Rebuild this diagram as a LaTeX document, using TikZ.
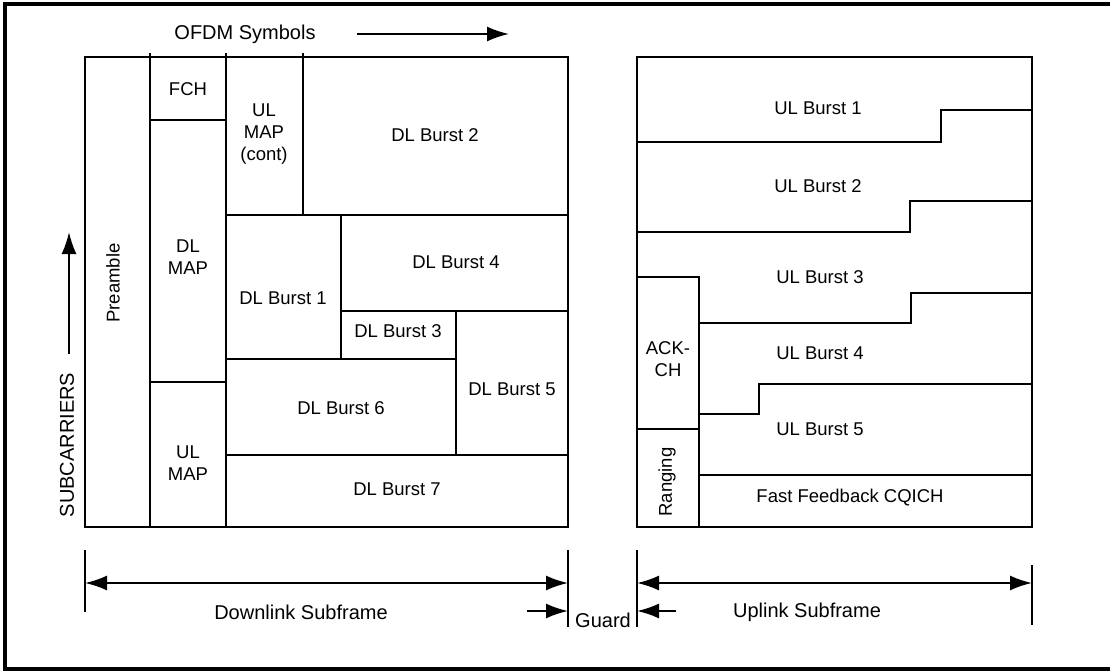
\documentclass[tikz,border=0pt]{standalone}
\usepackage{fontspec}
\setmainfont{Liberation Sans}
\usetikzlibrary{arrows.meta,positioning}
\tikzset{>={Latex[length=22pt,width=15pt]}}
\tikzset{box/.style={line width=2pt},
  lbl/.style={font=\fontsize{18.5}{22}\selectfont, align=center, inner sep=0pt},
  biglbl/.style={font=\fontsize{20}{24}\selectfont, inner sep=0pt},
  dim/.style={line width=2pt, <->}}

\begin{document}
\begin{tikzpicture}[x=1pt,y=-1pt]
  \useasboundingbox (0,0) rectangle (1110,671);
  \draw[line width=3.5pt] (1114,4) -- (5,4) -- (5,669) -- (1114,669);
  % axes labels
  \node[biglbl] (ofdm) at (245,34) {OFDM Symbols};
  \coordinate (symA) at (357,34);
  \coordinate (symB) at (509,34);
  \draw[box,->] (symA) -- (symB);
  \node[biglbl, rotate=90] (subc) at (67,445) {SUBCARRIERS};
  \coordinate (subA) at (69,354);
  \coordinate (subB) at (69,232);
  \draw[box,->] (subA) -- (subB);
  % downlink subframe
  \draw[box] (85,57) rectangle (568,527);
  \foreach \x in {150,226}
    \draw[box] (\x,53) -- (\x,527);
  \draw[box] (303,53) -- (303,215);
  \draw[box] (150,120) -- (226,120);
  \draw[box] (150,382) -- (226,382);
  \draw[box] (226,215) -- (568,215);
  \draw[box] (341,215) -- (341,359);
  \draw[box] (341,311) -- (568,311);
  \draw[box] (226,359) -- (456,359);
  \draw[box] (456,311) -- (456,455);
  \draw[box] (226,455) -- (568,455);
  \node[lbl, rotate=90] (pre) at (113,283) {Preamble};
  \node[lbl] (fch) at (188,89) {FCH};
  \node[lbl] (dlmap) at (188,257) {DL\\MAP};
  \node[lbl] (ulmap) at (188,463) {UL\\MAP};
  \node[lbl] (ulmapc) at (264,134) {UL\\MAP\\(cont)};
  \node[lbl] (dl2) at (435,135) {DL Burst 2};
  \node[lbl] (dl1) at (283,298) {DL Burst 1};
  \node[lbl] (dl4) at (456,262) {DL Burst 4};
  \node[lbl] (dl3) at (398,331) {DL Burst 3};
  \node[lbl] (dl5) at (512,389) {DL Burst 5};
  \node[lbl] (dl6) at (341,408) {DL Burst 6};
  \node[lbl] (dl7) at (397,489) {DL Burst 7};
  % uplink subframe
  \draw[box] (637,57) rectangle (1032,527);
  \draw[box] (637,142) -- (941,142) -- (941,110) -- (1032,110);
  \draw[box] (637,232) -- (910,232) -- (910,201) -- (1032,201);
  \draw[box] (637,277) -- (699,277) -- (699,527);
  \draw[box] (699,323) -- (911,323) -- (911,293) -- (1032,293);
  \draw[box] (699,414) -- (759,414) -- (759,384) -- (1032,384);
  \draw[box] (637,429) -- (699,429);
  \draw[box] (699,475) -- (1032,475);
  \node[lbl] (ul1) at (818,108) {UL Burst 1};
  \node[lbl] (ul2) at (818,186) {UL Burst 2};
  \node[lbl] (ul3) at (820,277) {UL Burst 3};
  \node[lbl] (ul4) at (820,353) {UL Burst 4};
  \node[lbl] (ul5) at (820,429) {UL Burst 5};
  \node[lbl] (ack) at (668,359) {ACK-\\CH};
  \node[lbl, rotate=90] (rng) at (667,482) {Ranging};
  \node[lbl] (cqich) at (850,498) {Fast Feedback CQICH};
  % subframe widths
  \draw[box] (85,550) -- (85,612);
  \draw[box] (568,550) -- (568,627);
  \draw[box] (637,550) -- (637,627);
  \draw[box] (1032,565) -- (1032,625);
  \coordinate (dlL) at (85,583);
  \coordinate (dlR) at (568,583);
  \coordinate (ulL) at (637,583);
  \coordinate (ulR) at (1032,583);
  \draw[dim] (dlL) -- (dlR);
  \draw[dim] (ulL) -- (ulR);
  \coordinate (gdA) at (527,611);
  \coordinate (gdB) at (568,611);
  \coordinate (gdC) at (676,611);
  \coordinate (gdD) at (637,611);
  \draw[box,->] (gdA) -- (gdB);
  \draw[box,->] (gdC) -- (gdD);
  \node[biglbl] (dlsf) at (301,612) {Downlink Subframe};
  \node[biglbl] (guard) at (603,620) {Guard};
  \node[biglbl] (ulsf) at (807,612) {Uplink Subframe};
\end{tikzpicture}
\end{document}
